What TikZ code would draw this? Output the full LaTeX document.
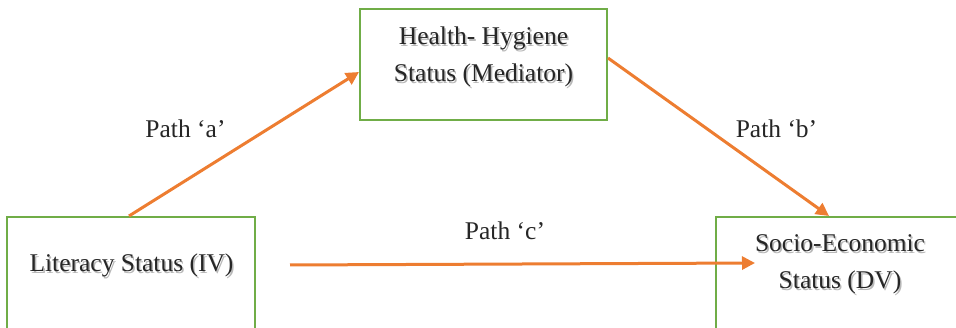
\documentclass[tikz,border=0pt]{standalone}
\usepackage{fontspec}
\setmainfont{Liberation Serif}
\usetikzlibrary{arrows.meta}
\definecolor{boxgreen}{RGB}{112,173,71}
\definecolor{arrorange}{RGB}{237,125,49}
\definecolor{ink}{RGB}{38,38,38}
% one line of box text with a soft drop shadow behind it
\newcommand\shadedline[4]{%
  \node[boxtext, text=black, opacity=0.28] (#1-sh) at (#2+1.5,#3+1.5) {#4};
  \node[boxtext] (#1) at (#2,#3) {#4};}
\begin{document}
\begin{tikzpicture}[x=1pt,y=-1pt,
  varbox/.style={draw=boxgreen, line width=2pt, rectangle, inner sep=0pt},
  link/.style={draw=arrorange, line width=3pt, -{Triangle[length=13pt,width=13pt]}},
  pathlabel/.style={font=\fontsize{25.5}{30}\selectfont, text=ink, inner sep=0pt, anchor=base},
  boxtext/.style={pathlabel}]
\useasboundingbox (0,0) rectangle (956,328);
\clip (0,0) rectangle (956,328);

% variable boxes
\node[varbox, minimum width=247pt, minimum height=111pt] (med) at (483.5,64.5) {};
\node[varbox, minimum width=248pt, minimum height=183pt] (lit) at (131,308.5) {};
\node[varbox, minimum width=284pt, minimum height=183pt] (dv) at (858,308.5) {};

% box texts
\shadedline{med1}{483.5}{45}{Health- Hygiene}
\shadedline{med2}{483.5}{82}{Status (Mediator)}
\shadedline{lit1}{131.5}{272}{Literacy Status (IV)}
\shadedline{dv1}{840}{252}{Socio-Economic}
\shadedline{dv2}{840}{289}{Status (DV)}

% path labels
\node[pathlabel] (pa) at (185.5,138) {Path ‘a’};
\node[pathlabel] (pb) at (776.5,138) {Path ‘b’};
\node[pathlabel] (pc) at (505,240) {Path ‘c’};

% paths
\coordinate (cStart) at (290,265);
\coordinate (cEnd) at (755,263);
\draw[link] ([xshift=-2pt]lit.north) -- ([yshift=-7.5pt]med.west);
\draw[link] ([yshift=6.5pt]med.east) -- ([xshift=114pt]dv.north west);
\draw[link] (cStart) -- (cEnd);
\end{tikzpicture}
\end{document}
